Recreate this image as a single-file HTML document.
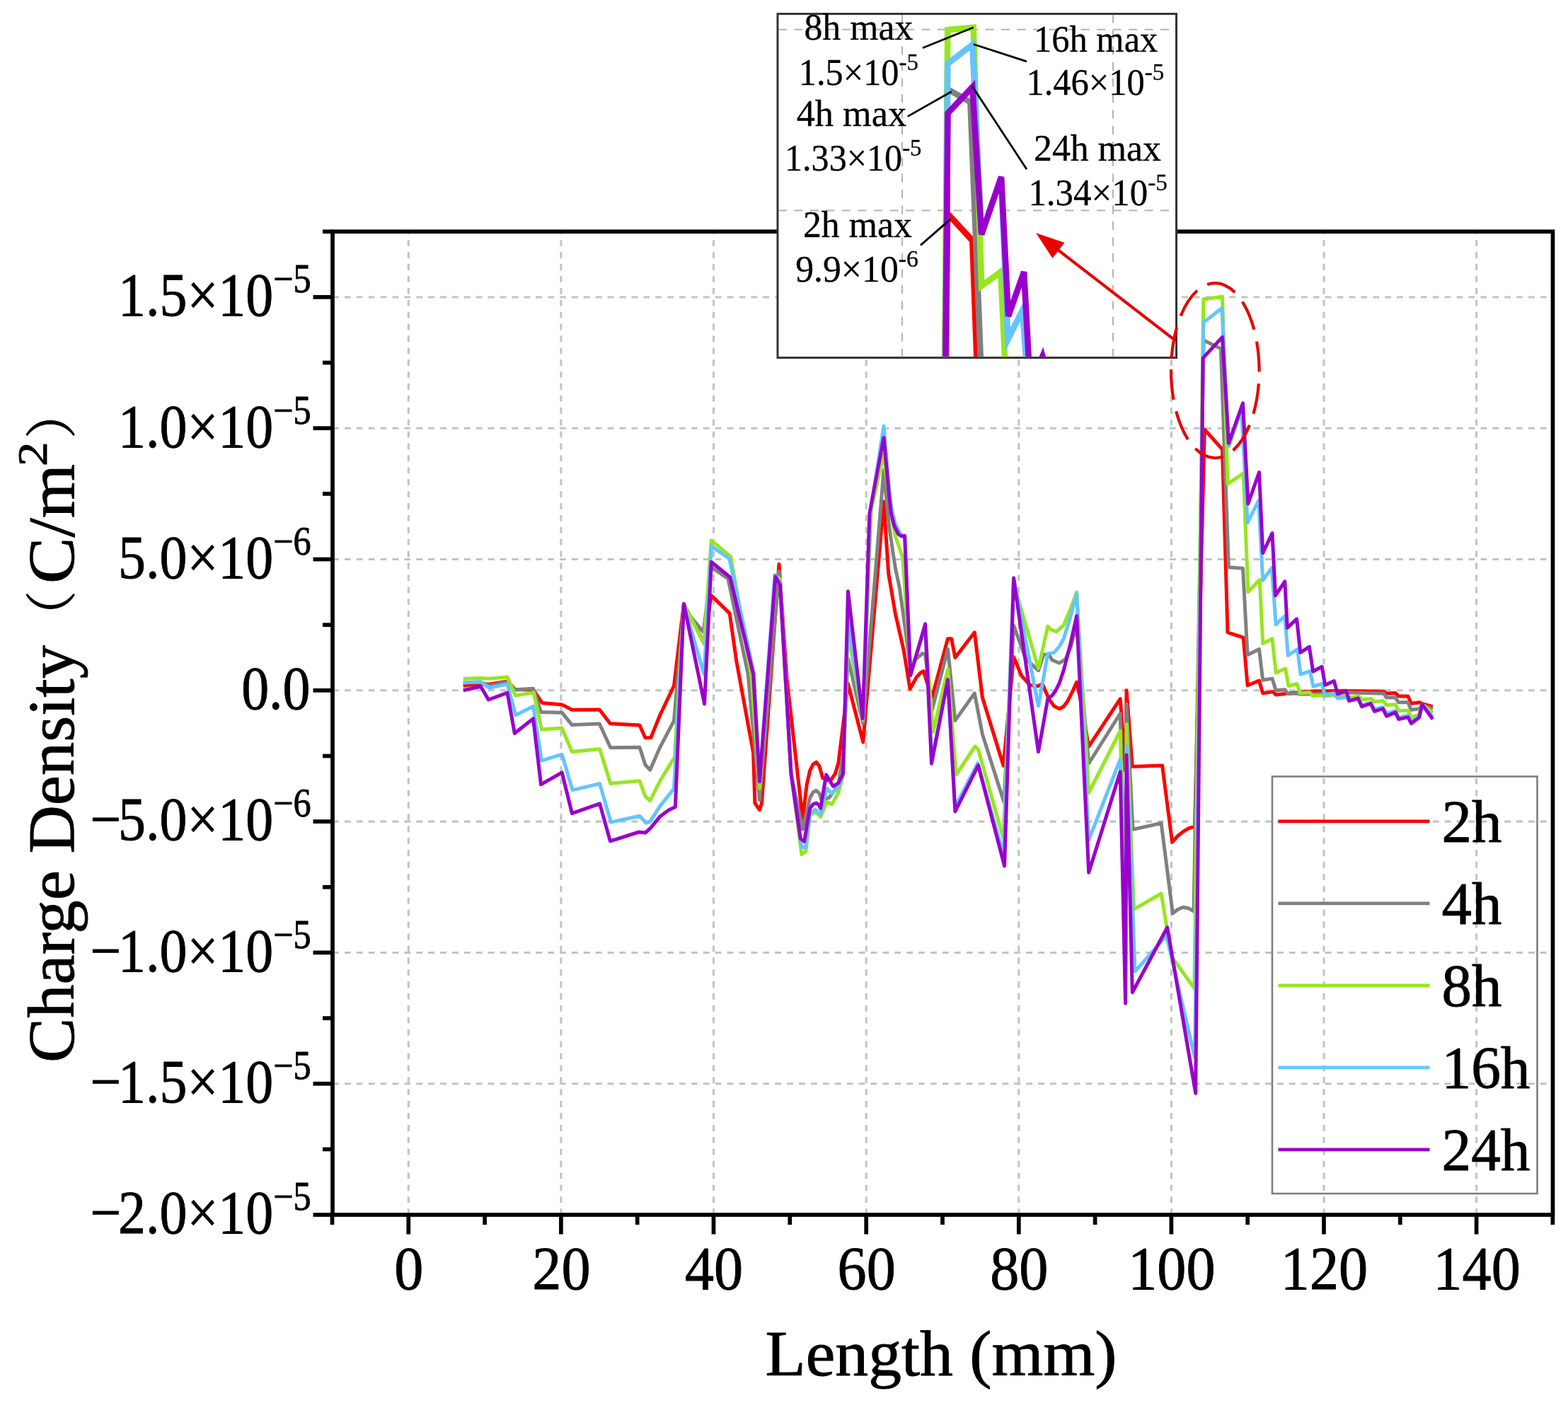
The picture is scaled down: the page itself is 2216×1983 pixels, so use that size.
<!DOCTYPE html>
<html lang="en"><head><meta charset="utf-8"><title>Charge Density vs Length</title>
<style>html,body{margin:0;padding:0;background:#fff;overflow:hidden}svg{display:block}text{font-family:'Liberation Serif', 'Noto Serif CJK SC', serif;fill:#000;stroke:#000;stroke-width:0.9px;stroke-linejoin:round}.it text{stroke-width:0.3px}</style></head><body>
<svg width="2216" height="1983" viewBox="0 0 2216 1983">
<defs><filter id="soft" x="0" y="0" width="2216" height="1983" filterUnits="userSpaceOnUse" color-interpolation-filters="sRGB"><feGaussianBlur stdDeviation="0.75"/></filter></defs>
<rect x="0" y="0" width="2216" height="1983" fill="#ffffff"/>
<g filter="url(#soft)">
<rect x="0" y="0" width="2216" height="1983" fill="#ffffff"/>
<g stroke="#c3c3c3" stroke-width="3.05" stroke-dasharray="8.8 8.1" fill="none">
<line x1="577.3" y1="1717.0" x2="577.3" y2="327.3"/>
<line x1="792.9" y1="1717.0" x2="792.9" y2="327.3"/>
<line x1="1008.5" y1="1717.0" x2="1008.5" y2="327.3"/>
<line x1="1224.2" y1="1717.0" x2="1224.2" y2="327.3"/>
<line x1="1439.8" y1="1717.0" x2="1439.8" y2="327.3"/>
<line x1="1655.4" y1="1717.0" x2="1655.4" y2="327.3"/>
<line x1="1871.0" y1="1717.0" x2="1871.0" y2="327.3"/>
<line x1="2086.6" y1="1717.0" x2="2086.6" y2="327.3"/>
<line x1="470.0" y1="1531.7" x2="2194.5" y2="1531.7"/>
<line x1="470.0" y1="1346.4" x2="2194.5" y2="1346.4"/>
<line x1="470.0" y1="1161.1" x2="2194.5" y2="1161.1"/>
<line x1="470.0" y1="975.8" x2="2194.5" y2="975.8"/>
<line x1="470.0" y1="790.5" x2="2194.5" y2="790.5"/>
<line x1="470.0" y1="605.2" x2="2194.5" y2="605.2"/>
<line x1="470.0" y1="419.9" x2="2194.5" y2="419.9"/>
</g>
<g fill="none" stroke-width="5" stroke-linejoin="round" stroke-linecap="butt">
<polyline stroke="#ff0000" points="654.7,969.2 679.5,966.3 691.3,967.3 717.0,962.9 728.3,974.8 753.6,974.8 766.1,993.4 794.2,995.9 808.4,1003.3 847.2,1002.9 862.4,1022.7 904.0,1025.0 911.9,1042.8 919.8,1042.8 932.7,1010.8 952.5,969.2 966.4,853.5 994.6,908.4 1005.3,841.7 1031.2,866.9 1040.9,935.1 1064.6,1063.9 1066.9,1135.1 1073.5,1144.7 1076.5,1135.1 1101.0,797.2 1112.1,960.0 1134.4,1157.3 1140.3,1108.4 1144.7,1089.1 1149.2,1080.2 1153.6,1077.2 1158.1,1083.1 1162.6,1099.5 1168.5,1102.4 1174.4,1102.4 1180.4,1093.5 1184.8,1078.7 1192.2,1019.3 1198.5,966.3 1219.7,1049.0 1249.0,709.1 1255.6,810.0 1265.3,867.1 1277.2,919.0 1286.1,973.9 1295.0,957.6 1300.9,950.9 1305.3,948.7 1309.8,963.5 1317.2,985.8 1339.5,902.7 1344.7,902.7 1349.9,929.4 1377.3,893.8 1388.4,985.8 1418.1,1082.2 1432.6,928.4 1443.7,955.1 1455.6,968.4 1466.0,969.9 1473.4,966.9 1482.3,987.7 1489.7,998.1 1497.2,1001.8 1503.1,998.8 1509.0,990.7 1516.4,975.8 1521.6,964.0 1526.8,987.7 1538.7,1055.2 1583.2,987.7 1590.6,1089.3 1592.1,975.8 1600.3,1083.4 1642.6,1081.9 1656.6,1190.2 1664.8,1181.3 1672.2,1175.4 1679.6,1170.9 1688.5,1168.0 1702.3,607.0 1727.5,635.2 1735.0,893.8 1757.2,901.2 1763.1,968.7 1779.5,962.0 1784.7,979.9 1798.8,977.6 1803.2,982.1 1816.6,980.6 1855.1,976.9 1902.6,976.3 1903.9,976.5 1955.8,977.2 1959.5,980.2 1972.1,979.4 1976.6,983.9 1989.9,983.9 1994.4,994.3 2006.2,992.8 2010.7,995.0 2024.8,998.7"/>
<polyline stroke="#808080" points="654.7,964.9 679.5,964.1 691.3,969.2 717.0,963.7 728.3,974.8 753.6,973.2 764.5,1006.4 794.2,1007.2 808.4,1024.6 847.2,1023.0 862.8,1056.7 904.0,1056.3 911.9,1081.0 918.8,1088.3 932.7,1056.3 952.5,1018.7 966.4,860.2 994.2,893.6 1005.3,801.6 1029.0,817.9 1057.2,952.9 1073.5,1130.6 1101.0,807.5 1118.0,1093.5 1134.4,1172.2 1144.7,1127.7 1149.2,1119.5 1153.6,1117.3 1158.1,1121.7 1161.1,1130.6 1171.5,1127.7 1184.8,1109.9 1192.2,1063.9 1198.5,930.7 1219.7,1022.3 1249.0,664.6 1256.4,743.2 1265.3,802.6 1271.2,830.0 1286.8,942.8 1295.0,930.9 1303.9,923.5 1307.6,925.0 1317.2,1003.6 1339.5,917.5 1349.9,1018.4 1377.3,979.9 1388.4,1037.7 1418.8,1133.5 1432.6,883.9 1449.7,931.3 1467.5,947.7 1474.9,925.4 1482.3,924.7 1486.8,932.8 1497.2,937.3 1506.1,931.3 1513.5,913.5 1521.6,883.9 1538.7,1079.0 1583.2,1008.5 1590.6,1290.0 1592.1,995.1 1601.0,1172.4 1641.1,1163.5 1657.4,1291.1 1664.8,1285.2 1672.2,1282.2 1679.6,1283.7 1687.1,1288.2 1701.1,480.9 1725.3,492.8 1736.4,801.8 1756.5,803.2 1763.1,925.7 1779.5,917.5 1784.7,961.3 1798.0,959.1 1803.2,976.1 1815.8,974.7 1820.3,980.6 1832.9,979.9 1837.3,981.3 1902.6,980.1 1903.9,978.7 1955.8,980.2 1959.5,986.1 1972.1,986.1 1976.6,992.8 1989.9,992.8 1994.4,1003.2 2006.2,1001.7 2009.9,995.8 2024.8,1002.4"/>
<polyline stroke="#96e620" points="654.7,959.3 679.5,958.6 691.3,959.3 717.0,957.0 728.3,983.1 754.2,978.7 765.5,1031.0 794.2,1029.0 808.4,1062.6 847.6,1058.7 862.8,1107.3 904.0,1103.8 911.9,1125.5 918.8,1131.5 932.7,1103.8 953.4,1070.1 966.4,853.5 994.9,909.9 1005.3,763.8 1032.7,786.8 1061.7,952.9 1073.5,1114.3 1095.8,815.0 1102.5,817.9 1118.0,1093.5 1132.9,1207.8 1138.8,1203.3 1144.7,1152.9 1152.2,1146.9 1159.6,1154.4 1168.5,1133.6 1175.9,1136.6 1184.8,1120.2 1191.5,1096.5 1198.5,895.1 1219.7,1017.9 1231.2,720.9 1248.7,642.3 1256.7,703.1 1259.6,726.9 1265.3,758.0 1275.7,787.7 1286.8,948.7 1307.6,887.1 1318.7,1034.7 1339.5,945.7 1351.3,1095.0 1378.0,1054.9 1382.5,1059.3 1418.1,1185.5 1432.6,824.5 1467.5,944.7 1480.8,885.3 1485.3,889.8 1492.7,892.8 1503.1,883.9 1512.0,863.1 1521.6,837.1 1538.7,1120.5 1583.2,1033.0 1590.6,1334.5 1592.1,1023.3 1602.5,1285.2 1641.1,1262.9 1655.9,1352.3 1687.8,1396.8 1700.8,423.0 1727.5,419.3 1735.0,683.8 1757.2,669.0 1763.9,836.6 1780.2,819.6 1784.7,909.4 1798.0,902.7 1803.2,950.9 1816.6,945.0 1821.0,969.5 1832.9,966.5 1837.3,979.9 1850.7,978.4 1855.1,983.6 1868.5,982.8 1872.7,983.9 1886.1,982.4 1890.5,984.6 1903.9,983.1 1908.3,986.1 1920.2,983.9 1924.6,989.1 1938.0,987.6 1942.4,992.0 1954.3,990.6 1959.5,996.5 1972.1,995.8 1976.6,1004.7 1989.9,1003.9 1994.4,1014.3 2005.5,1009.9 2009.9,995.8 2024.8,1006.9"/>
<polyline stroke="#64c4ff" points="654.7,964.9 679.5,963.7 691.3,972.2 717.0,966.9 728.9,1010.8 753.6,998.3 765.5,1075.1 794.2,1066.2 809.0,1116.6 847.6,1107.7 863.4,1162.1 904.0,1153.2 912.9,1163.1 918.8,1161.1 932.7,1139.4 952.5,1114.6 966.4,854.3 994.9,952.9 1005.3,771.9 1030.8,789.7 1065.4,951.5 1073.5,1103.2 1095.0,812.7 1102.5,823.9 1118.0,1093.5 1132.9,1197.4 1138.8,1197.4 1144.7,1149.9 1152.2,1144.0 1159.6,1151.4 1168.5,1114.3 1175.9,1121.7 1184.8,1112.8 1191.5,1093.5 1198.5,875.8 1219.7,1016.4 1229.7,725.4 1249.0,602.3 1257.1,695.7 1260.1,719.5 1265.3,740.2 1271.2,752.1 1274.9,757.3 1278.6,757.3 1286.8,953.1 1307.6,885.6 1316.8,1073.3 1339.5,961.3 1349.6,1140.9 1381.8,1078.6 1418.1,1207.7 1432.6,817.1 1467.5,998.1 1480.8,923.9 1489.7,922.4 1497.2,913.5 1503.1,903.1 1512.0,875.0 1521.6,839.3 1538.7,1187.3 1583.2,1073.0 1590.6,1408.7 1592.1,1053.7 1604.0,1373.1 1648.5,1322.6 1688.5,1494.0 1700.8,455.7 1726.8,435.6 1736.7,630.7 1754.5,578.8 1763.1,738.7 1778.7,707.5 1784.7,820.3 1797.3,802.5 1803.2,882.7 1815.8,870.8 1820.3,926.4 1833.6,917.5 1838.1,953.1 1851.4,948.7 1855.9,970.2 1868.5,966.5 1872.2,982.8 1884.8,979.9 1890.7,987.3 1902.4,985.4 1906.8,990.6 1919.4,988.3 1924.6,996.5 1937.2,993.5 1942.4,1002.4 1954.3,999.5 1959.5,1008.4 1972.1,1004.7 1976.6,1014.3 1989.9,1011.3 1994.4,1020.2 2005.5,1012.8 2009.9,995.8 2024.8,1012.8"/>
<polyline stroke="#9900cc" points="654.7,975.8 679.5,970.2 690.3,989.0 717.0,979.1 727.3,1036.5 753.6,1015.7 764.5,1108.7 794.2,1091.9 808.4,1149.7 847.6,1135.8 862.4,1188.8 903.0,1176.0 911.9,1177.0 918.8,1171.0 932.7,1154.2 944.5,1145.3 954.4,1140.4 966.4,853.5 995.6,994.9 1005.3,794.2 1031.7,815.7 1064.6,952.9 1073.5,1104.7 1095.8,815.0 1102.5,826.8 1118.0,1093.5 1131.4,1185.5 1136.6,1189.2 1144.7,1142.5 1149.2,1136.6 1153.6,1135.1 1157.4,1138.0 1159.6,1142.5 1167.7,1095.0 1177.4,1111.3 1184.8,1106.9 1191.5,1093.5 1198.5,835.7 1219.3,1015.5 1228.9,725.4 1249.0,618.6 1256.4,698.7 1259.3,725.4 1263.8,743.2 1269.7,755.1 1274.2,758.0 1278.6,757.3 1286.8,954.6 1307.6,881.9 1316.5,1079.3 1339.5,960.6 1349.9,1146.9 1382.5,1081.6 1419.6,1224.0 1432.6,817.1 1467.5,1062.6 1480.8,987.7 1486.8,983.3 1491.2,977.3 1497.2,965.5 1503.1,947.7 1512.0,913.5 1521.6,870.5 1538.7,1233.3 1583.2,1090.8 1590.6,1418.3 1592.1,1067.1 1600.3,1402.8 1649.7,1310.8 1689.7,1545.2 1700.1,506.1 1727.5,476.4 1736.4,626.3 1756.5,569.9 1763.9,712.0 1779.5,667.5 1784.7,781.7 1798.0,753.5 1802.5,841.8 1815.8,821.8 1819.3,887.4 1832.6,874.8 1837.8,922.3 1850.4,914.2 1855.6,949.0 1868.2,942.3 1872.7,968.3 1885.3,962.4 1890.5,980.9 1902.4,976.5 1906.8,990.6 1919.4,986.9 1924.6,998.7 1937.2,994.3 1942.4,1005.4 1954.3,1001.7 1959.5,1012.1 1972.1,1006.9 1976.6,1016.5 1989.9,1013.6 1994.4,1022.5 2005.5,1014.3 2009.9,995.8 2024.8,1016.5"/>
</g>
<g stroke="#000" stroke-width="5.7" fill="none" stroke-linecap="butt">
<rect x="470.0" y="327.3" width="1724.5" height="1389.7"/>
<line x1="469.5" y1="1717.0" x2="469.5" y2="1731.0"/>
<line x1="577.3" y1="1717.0" x2="577.3" y2="1744.5"/>
<line x1="685.1" y1="1717.0" x2="685.1" y2="1731.0"/>
<line x1="792.9" y1="1717.0" x2="792.9" y2="1744.5"/>
<line x1="900.7" y1="1717.0" x2="900.7" y2="1731.0"/>
<line x1="1008.5" y1="1717.0" x2="1008.5" y2="1744.5"/>
<line x1="1116.3" y1="1717.0" x2="1116.3" y2="1731.0"/>
<line x1="1224.2" y1="1717.0" x2="1224.2" y2="1744.5"/>
<line x1="1332.0" y1="1717.0" x2="1332.0" y2="1731.0"/>
<line x1="1439.8" y1="1717.0" x2="1439.8" y2="1744.5"/>
<line x1="1547.6" y1="1717.0" x2="1547.6" y2="1731.0"/>
<line x1="1655.4" y1="1717.0" x2="1655.4" y2="1744.5"/>
<line x1="1763.2" y1="1717.0" x2="1763.2" y2="1731.0"/>
<line x1="1871.0" y1="1717.0" x2="1871.0" y2="1744.5"/>
<line x1="1978.8" y1="1717.0" x2="1978.8" y2="1731.0"/>
<line x1="2086.6" y1="1717.0" x2="2086.6" y2="1744.5"/>
<line x1="2194.4" y1="1717.0" x2="2194.4" y2="1731.0"/>
<line x1="470.0" y1="1717.0" x2="442.5" y2="1717.0"/>
<line x1="470.0" y1="1624.4" x2="456.0" y2="1624.4"/>
<line x1="470.0" y1="1531.7" x2="442.5" y2="1531.7"/>
<line x1="470.0" y1="1439.1" x2="456.0" y2="1439.1"/>
<line x1="470.0" y1="1346.4" x2="442.5" y2="1346.4"/>
<line x1="470.0" y1="1253.8" x2="456.0" y2="1253.8"/>
<line x1="470.0" y1="1161.1" x2="442.5" y2="1161.1"/>
<line x1="470.0" y1="1068.5" x2="456.0" y2="1068.5"/>
<line x1="470.0" y1="975.8" x2="442.5" y2="975.8"/>
<line x1="470.0" y1="883.2" x2="456.0" y2="883.2"/>
<line x1="470.0" y1="790.5" x2="442.5" y2="790.5"/>
<line x1="470.0" y1="697.9" x2="456.0" y2="697.9"/>
<line x1="470.0" y1="605.2" x2="442.5" y2="605.2"/>
<line x1="470.0" y1="512.6" x2="456.0" y2="512.6"/>
<line x1="470.0" y1="419.9" x2="442.5" y2="419.9"/>
<line x1="470.0" y1="327.3" x2="456.0" y2="327.3"/>
</g>
<text transform="translate(439.5,446.2) scale(0.895,1)" text-anchor="end" font-size="87">1.5×10<tspan font-size="56" dy="-33">−5</tspan></text>
<text transform="translate(439.5,631.5) scale(0.895,1)" text-anchor="end" font-size="87">1.0×10<tspan font-size="56" dy="-33">−5</tspan></text>
<text transform="translate(439.5,816.8) scale(0.895,1)" text-anchor="end" font-size="87">5.0×10<tspan font-size="56" dy="-33">−6</tspan></text>
<text transform="translate(438.5,1002.1) scale(0.895,1)" text-anchor="end" font-size="87">0.0</text>
<text transform="translate(439.5,1187.4) scale(0.895,1)" text-anchor="end" font-size="87">−<tspan dx="-4.5">5.0×10</tspan><tspan font-size="56" dy="-33">−6</tspan></text>
<text transform="translate(439.5,1372.7) scale(0.895,1)" text-anchor="end" font-size="87">−<tspan dx="-4.5">1.0×10</tspan><tspan font-size="56" dy="-33">−5</tspan></text>
<text transform="translate(439.5,1558.0) scale(0.895,1)" text-anchor="end" font-size="87">−<tspan dx="-4.5">1.5×10</tspan><tspan font-size="56" dy="-33">−5</tspan></text>
<text transform="translate(439.5,1743.3) scale(0.895,1)" text-anchor="end" font-size="87">−<tspan dx="-4.5">2.0×10</tspan><tspan font-size="56" dy="-33">−5</tspan></text>
<text transform="translate(577.8,1821.5) scale(0.945,1)" text-anchor="middle" font-size="87">0</text>
<text transform="translate(793.4,1821.5) scale(0.945,1)" text-anchor="middle" font-size="87">20</text>
<text transform="translate(1009.0,1821.5) scale(0.945,1)" text-anchor="middle" font-size="87">40</text>
<text transform="translate(1224.7,1821.5) scale(0.945,1)" text-anchor="middle" font-size="87">60</text>
<text transform="translate(1440.3,1821.5) scale(0.945,1)" text-anchor="middle" font-size="87">80</text>
<text transform="translate(1655.9,1821.5) scale(0.945,1)" text-anchor="middle" font-size="87">100</text>
<text transform="translate(1871.5,1821.5) scale(0.945,1)" text-anchor="middle" font-size="87">120</text>
<text transform="translate(2087.1,1821.5) scale(0.945,1)" text-anchor="middle" font-size="87">140</text>
<text x="1330" y="1944" text-anchor="middle" font-size="91" textLength="497" lengthAdjust="spacingAndGlyphs">Length (mm)</text>
<g transform="translate(104,1502) rotate(-90)" font-size="94">
<text x="0" y="0" textLength="590" lengthAdjust="spacingAndGlyphs">Charge Density</text>
<text x="594" y="-5" font-size="73">（</text>
<text x="677" y="0" textLength="169" lengthAdjust="spacingAndGlyphs">C/m</text>
<text transform="translate(843,-38) scale(1.15,1)" font-size="60">2</text>
<text x="882" y="-5" font-size="73">）</text>
</g>
<rect x="1798" y="1097.5" width="374.5" height="589.5" fill="none" stroke="#7f7f7f" stroke-width="2.6"/>
<line x1="1806.5" y1="1160.8" x2="2020.5" y2="1160.8" stroke="#ff0000" stroke-width="4.8"/>
<text x="2037.5" y="1189.6" font-size="84" textLength="85" lengthAdjust="spacingAndGlyphs">2h</text>
<line x1="1806.5" y1="1276.8" x2="2020.5" y2="1276.8" stroke="#808080" stroke-width="4.8"/>
<text x="2037.5" y="1305.6" font-size="84" textLength="85" lengthAdjust="spacingAndGlyphs">4h</text>
<line x1="1806.5" y1="1392.8" x2="2020.5" y2="1392.8" stroke="#96e61e" stroke-width="4.8"/>
<text x="2037.5" y="1421.6" font-size="84" textLength="85" lengthAdjust="spacingAndGlyphs">8h</text>
<line x1="1806.5" y1="1508.8" x2="2020.5" y2="1508.8" stroke="#64c8ff" stroke-width="4.8"/>
<text x="2037.5" y="1537.6" font-size="84" textLength="125" lengthAdjust="spacingAndGlyphs">16h</text>
<line x1="1806.5" y1="1624.8" x2="2020.5" y2="1624.8" stroke="#9a00cd" stroke-width="4.8"/>
<text x="2037.5" y="1653.6" font-size="84" textLength="125" lengthAdjust="spacingAndGlyphs">24h</text>
<g class="it">
<rect x="1099" y="19.6" width="563.5" height="486" fill="#ffffff" stroke="#333333" stroke-width="3"/>
<clipPath id="ic"><rect x="1100.3" y="20.9" width="561.4" height="483.4"/></clipPath>
<g clip-path="url(#ic)">
<g stroke="#b4b4b4" stroke-width="2" stroke-dasharray="12 10.5" fill="none">
<line x1="1100" y1="41.8" x2="1662" y2="41.8"/><line x1="1100" y1="297.6" x2="1662" y2="297.6"/>
<line x1="1275" y1="505" x2="1275" y2="20"/><line x1="1573" y1="505" x2="1573" y2="20"/>
</g>
<g fill="none" stroke-width="8.6" stroke-linejoin="miter" stroke-miterlimit="5">
<polyline stroke="#ff0000" points="1337,510 1339,308 1342.5,305.5 1374.3,340 1380.5,510"/>
<polyline stroke="#808080" points="1337,510 1339,132 1343.6,128.6 1371.4,144.3 1386,510"/>
<polyline stroke="#96e620" points="1335,510 1339.3,42.1 1375.7,38.6 1387.1,404.3 1414.3,384.3 1420.3,510"/>
<polyline stroke="#64c4ff" points="1336,510 1339.3,90 1374.3,62.9 1387.1,331 1415,252 1424.3,480 1445,438.6 1450.3,510"/>
<polyline stroke="#9900cc" points="1336.3,510 1339.5,160 1374.3,122.9 1387.1,331.4 1415,250 1425,447 1447.1,384.3 1454,510"/>
<polyline stroke="#9900cc" points="1470,512 1473.5,503.5 1476,512"/>
</g>
</g>
<g stroke="#000" stroke-width="2.8" fill="none" stroke-linecap="butt">
<line x1="1304" y1="67.7" x2="1375.7" y2="38.7"/>
<line x1="1375.7" y1="62.5" x2="1451" y2="86.9"/>
<line x1="1282.7" y1="164.6" x2="1344.6" y2="129.5"/>
<line x1="1374.1" y1="121.9" x2="1451" y2="239.3"/>
<line x1="1301" y1="346.6" x2="1343.7" y2="309.4"/>
</g>
<text x="1136.4" y="56.4" font-size="52" textLength="153.9" lengthAdjust="spacingAndGlyphs">8h max</text>
<text x="1128.8" y="120.4" font-size="52" textLength="169.2" lengthAdjust="spacingAndGlyphs">1.5×10<tspan font-size="34" dy="-21">-5</tspan></text>
<text x="1125.7" y="178.3" font-size="52" textLength="155.5" lengthAdjust="spacingAndGlyphs">4h max</text>
<text x="1109.0" y="240.8" font-size="52" textLength="193.5" lengthAdjust="spacingAndGlyphs">1.33×10<tspan font-size="34" dy="-21">-5</tspan></text>
<text x="1134.9" y="335.3" font-size="52" textLength="153.9" lengthAdjust="spacingAndGlyphs">2h max</text>
<text x="1124.2" y="397.8" font-size="52" textLength="173.8" lengthAdjust="spacingAndGlyphs">9.9×10<tspan font-size="34" dy="-21">-6</tspan></text>
<text x="1461.0" y="73.2" font-size="52" textLength="175.3" lengthAdjust="spacingAndGlyphs">16h max</text>
<text x="1450.4" y="134.1" font-size="52" textLength="195.0" lengthAdjust="spacingAndGlyphs">1.46×10<tspan font-size="34" dy="-21">-5</tspan></text>
<text x="1461.0" y="227.1" font-size="52" textLength="179.9" lengthAdjust="spacingAndGlyphs">24h max</text>
<text x="1453.4" y="289.6" font-size="52" textLength="196.6" lengthAdjust="spacingAndGlyphs">1.34×10<tspan font-size="34" dy="-21">-5</tspan></text>
</g>
<ellipse cx="1717.3" cy="523.7" rx="62.3" ry="123.6" fill="none" stroke="#e80000" stroke-width="4.2" pathLength="100" stroke-dasharray="7.2 2.8" stroke-dashoffset="-3.1"/>
<line x1="1657.6" y1="478.6" x2="1490" y2="349.2" stroke="#e80000" stroke-width="4.2"/>
<polygon points="1464.1,329.2 1504.5,343 1487.5,365" fill="#e80000"/>
</g>
</svg></body></html>
